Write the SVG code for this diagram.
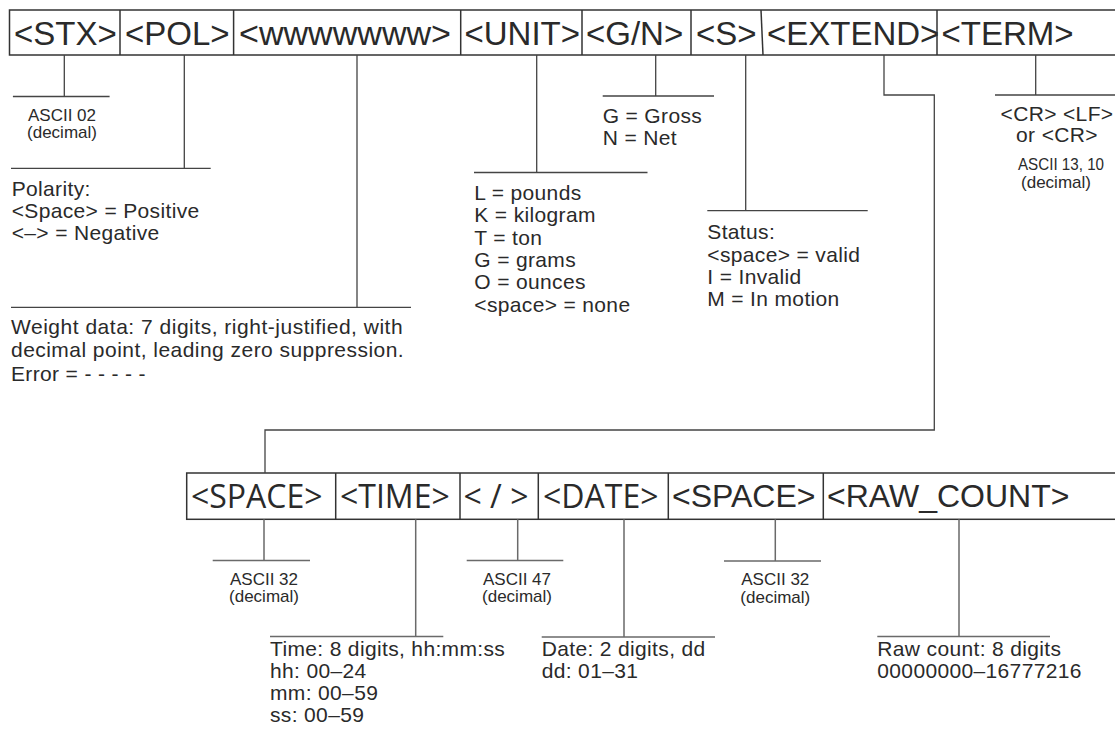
<svg xmlns="http://www.w3.org/2000/svg" width="1115" height="734" viewBox="0 0 1115 734">
<style>
.box{fill:none;stroke:#333;stroke-width:1.5}
.div{stroke:#333;stroke-width:1.5}
.ln{fill:none;stroke:#444;stroke-width:1.3}
.ln2{fill:none;stroke:#6a6a6a;stroke-width:1.5}
.big{font-family:"Liberation Sans",Arial,sans-serif;font-size:33px;fill:#2a2a2a}
.big2{font-family:"Open Sans","Liberation Sans",sans-serif;font-size:32px;fill:#2a2a2a}
.big3{font-family:"Liberation Sans",Arial,sans-serif;font-size:32px;fill:#2a2a2a}
.t{font-family:"Liberation Sans",Arial,sans-serif;font-size:21px;letter-spacing:0.35px;fill:#2a2a2a}
.s{font-family:"Liberation Sans",Arial,sans-serif;font-size:17px;fill:#2a2a2a;text-anchor:middle}
.m{text-anchor:middle}
</style>
<rect width="1115" height="734" fill="#fff"/>
<g id="top-frame">
<rect class="box" x="9.5" y="10" width="1115" height="45"/>
</g>
<g id="n-stx"><text class="big" x="14" y="44.5">&lt;STX&gt;</text><line class="div" x1="120" y1="10" x2="120" y2="55"/></g>
<g id="n-pol"><text class="big" x="125" y="44.5">&lt;POL&gt;</text><line class="div" x1="233.6" y1="10" x2="233.6" y2="55"/></g>
<g id="n-w"><text class="big" x="239" y="44.5" textLength="212" lengthAdjust="spacingAndGlyphs">&lt;wwwwwww&gt;</text><line class="div" x1="460.7" y1="10" x2="460.7" y2="55"/></g>
<g id="n-unit"><text class="big" x="464.5" y="44.5">&lt;UNIT&gt;</text><line class="div" x1="582" y1="10" x2="582" y2="55"/></g>
<g id="n-gn"><text class="big" x="586" y="44.5">&lt;G/N&gt;</text><line class="div" x1="691" y1="10" x2="691" y2="55"/></g>
<g id="n-s"><text class="big" x="696" y="44.5">&lt;S&gt;</text><line class="div" x1="761" y1="10" x2="763" y2="55"/></g>
<g id="n-extend"><text class="big" x="767" y="44.5">&lt;EXTEND&gt;</text><line class="div" x1="937" y1="10" x2="937" y2="55"/></g>
<g id="n-term"><text class="big" x="941.5" y="44.5">&lt;TERM&gt;</text></g>

<g id="bottom-frame">
<rect class="box" x="186.7" y="473" width="940" height="46.3"/>
</g>
<g id="n-space1"><text class="big2" x="191" y="508">&lt;SPACE&gt;</text><line class="div" x1="335.7" y1="473" x2="335.7" y2="519.3"/></g>
<g id="n-time"><text class="big2" x="340" y="508">&lt;TIME&gt;</text><line class="div" x1="460" y1="473" x2="460" y2="519.3"/></g>
<g id="n-slash"><text class="big2" x="463.5" y="508">&lt; / &gt;</text><line class="div" x1="538.3" y1="473" x2="538.3" y2="519.3"/></g>
<g id="n-date"><text class="big2" x="543" y="508">&lt;DATE&gt;</text><line class="div" x1="668.3" y1="473" x2="668.3" y2="519.3"/></g>
<g id="n-space2"><text class="big3" x="672" y="507">&lt;SPACE&gt;</text><line class="div" x1="823.3" y1="473" x2="823.3" y2="519.3"/></g>
<g id="n-raw"><text class="big3" x="827" y="507">&lt;RAW_COUNT&gt;</text></g>

<g id="connectors">
<path class="ln" d="M64.3 55V96.5M12.9 96.5H109.6"/>
<path class="ln" d="M184.3 55V168.3M11 168.3H210.7"/>
<path class="ln" d="M357 55V307.3M11 307.3H411"/>
<path class="ln" d="M536.7 55V172.5M474 172.5H647.5"/>
<path class="ln" d="M655.7 55V96M602.7 96H714"/>
<path class="ln" d="M745.7 55V210.7M707.3 210.7H867.7"/>
<path class="ln" d="M884 55V95H934.3V430H265V473"/>
<path class="ln" d="M1035.7 55V95M995 95H1115"/>
<path class="ln2" d="M264 519.3V560.5M212.7 560.5H310"/>
<path class="ln2" d="M415.7 519.3V636.5M270 636.5H443.3"/>
<path class="ln2" d="M517.7 519.3V560.5M466.7 560.5H563.3"/>
<path class="ln2" d="M624 519.3V637M541.7 637H715"/>
<path class="ln2" d="M775.3 519.3V561M724 561H821"/>
<path class="ln2" d="M959 519.3V636.5M877.3 636.5H1050"/>
</g>

<g id="l-stx"><text class="s" x="62" y="120.5">ASCII 02</text><text class="s" x="62" y="138">(decimal)</text></g>
<g id="l-pol"><text class="t" x="11.7" y="196">Polarity:</text><text class="t" x="11.7" y="218">&lt;Space&gt; = Positive</text><text class="t" x="11.7" y="240">&lt;–&gt; = Negative</text></g>
<g id="l-w"><text class="t" x="11" y="334" textLength="392" lengthAdjust="spacing">Weight data: 7 digits, right-justified, with</text><text class="t" x="11" y="356.5" textLength="393" lengthAdjust="spacing">decimal point, leading zero suppression.</text><text class="t" x="11" y="380.5" font-size="20">Error = - - - - -</text></g>
<g id="l-unit"><text class="t" x="474.3" y="200">L = pounds</text><text class="t" x="474.3" y="222.3">K = kilogram</text><text class="t" x="474.3" y="244.6">T = ton</text><text class="t" x="474.3" y="267">G = grams</text><text class="t" x="474.3" y="289.3">O = ounces</text><text class="t" x="474.3" y="311.7">&lt;space&gt; = none</text></g>
<g id="l-gn"><text class="t" x="602.7" y="123.3">G = Gross</text><text class="t" x="602.7" y="145">N = Net</text></g>
<g id="l-s"><text class="t" x="707.3" y="239.3">Status:</text><text class="t" x="707.3" y="261.7">&lt;space&gt; = valid</text><text class="t" x="707.3" y="284">I = Invalid</text><text class="t" x="707.3" y="305.7">M = In motion</text></g>
<g id="l-term"><text class="t m" x="1057" y="120.7">&lt;CR&gt; &lt;LF&gt;</text><text class="t m" x="1057" y="142.3">or &lt;CR&gt;</text><text class="s" x="1061" y="170" textLength="86" lengthAdjust="spacingAndGlyphs">ASCII 13, 10</text><text class="s" x="1056" y="188">(decimal)</text></g>
<g id="l-space1"><text class="s" x="264" y="585">ASCII 32</text><text class="s" x="264" y="602">(decimal)</text></g>
<g id="l-slash"><text class="s" x="517" y="585">ASCII 47</text><text class="s" x="517" y="602">(decimal)</text></g>
<g id="l-space2"><text class="s" x="775.3" y="585">ASCII 32</text><text class="s" x="775.3" y="602.5">(decimal)</text></g>
<g id="l-time"><text class="t" x="270" y="656">Time: 8 digits, hh:mm:ss</text><text class="t" x="270" y="678">hh: 00–24</text><text class="t" x="270" y="700">mm: 00–59</text><text class="t" x="270" y="722">ss: 00–59</text></g>
<g id="l-date"><text class="t" x="541.7" y="656">Date: 2 digits, dd</text><text class="t" x="541.7" y="678">dd: 01–31</text></g>
<g id="l-raw"><text class="t" x="877.3" y="656">Raw count: 8 digits</text><text class="t" x="877.3" y="678">00000000–16777216</text></g>
</svg>
